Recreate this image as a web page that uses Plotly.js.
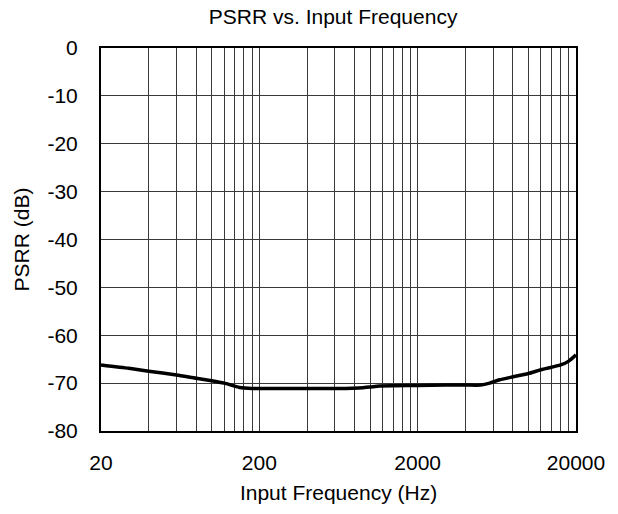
<!DOCTYPE html>
<html>
<head>
<meta charset="utf-8">
<script src="https://cdn.plot.ly/plotly-3.0.1.min.js"></script>
<style>html,body{margin:0;padding:0;background:#fff;}#chart{width:618px;height:514px;}</style>
</head>
<body>
<div id="chart"></div>
<script>
const freqHz = [20, 30, 40, 60, 80, 100, 120, 150, 180, 200, 300, 500, 700, 850, 1000, 1150, 2000, 3000, 4000, 5000, 5700, 6600, 7700, 10000, 12000, 16000, 18000, 20000];
const psrrDb = [-66.2, -66.9, -67.5, -68.3, -69.0, -69.5, -70.0, -70.9, -71.1, -71.1, -71.1, -71.1, -71.1, -71.0, -70.8, -70.6, -70.5, -70.4, -70.4, -70.4, -70.0, -69.3, -68.8, -68.0, -67.2, -66.2, -65.4, -64.1];

const gridVals = [];
[20, 200, 2000].forEach(function (base) {
  for (let k = 1; k < 10; k++) gridVals.push(base * k);
});
gridVals.push(20000);
const labelVals = [20, 200, 2000, 20000];
const gridText = gridVals.map(function (v) { return labelVals.indexOf(v) >= 0 ? String(v) : ''; });
const yTicks = [0, -10, -20, -30, -40, -50, -60, -70, -80];

const fam = 'Liberation Sans, Arial, sans-serif';
const tickFont = {family: fam, size: 21, color: '#000'};
const titleFont = {family: fam, size: 21, color: '#000'};

Plotly.newPlot('chart', [{
  x: freqHz, y: psrrDb, type: 'scatter', mode: 'lines',
  line: {color: '#000', width: 3.5, shape: 'spline', smoothing: 0.6},
  hoverinfo: 'skip'
}], {
  width: 618, height: 514,
  margin: {l: 101, r: 42, t: 48, b: 83},
  paper_bgcolor: '#fff', plot_bgcolor: '#fff',
  font: tickFont,
  showlegend: false,
  title: {text: 'PSRR vs. Input Frequency', font: titleFont, x: 0.539, xanchor: 'center', y: 0.967, yanchor: 'middle'},
  xaxis: {
    type: 'log', range: [Math.log10(20), Math.log10(20000)],
    tickmode: 'array', tickvals: gridVals, ticktext: gridText,
    showgrid: true, gridcolor: '#3a3a3a', gridwidth: 1,
    showline: true, linecolor: '#000', linewidth: 2, mirror: true,
    ticks: '', tickfont: tickFont, zeroline: false, ticklabelstandoff: 12,
    title: {text: 'Input Frequency (Hz)', font: titleFont, standoff: 12}
  },
  yaxis: {
    range: [-80, 0], tickmode: 'array', tickvals: yTicks, ticktext: yTicks.map(String),
    showgrid: true, gridcolor: '#3a3a3a', gridwidth: 1,
    showline: true, linecolor: '#000', linewidth: 2, mirror: true,
    ticks: '', tickfont: tickFont, zeroline: false, ticklabelstandoff: 17,
    title: {text: 'PSRR (dB)', font: titleFont, standoff: 12}
  }
}, {staticPlot: true, displayModeBar: false});
</script>
</body>
</html>
